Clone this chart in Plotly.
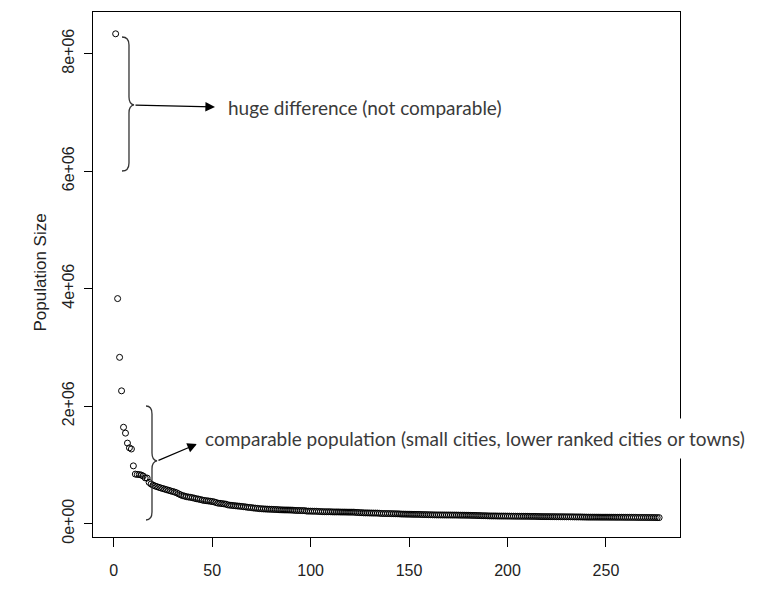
import plotly.graph_objects as go

# populations of the ranked cities (largest first)
population = [
    8336697, 3830000, 2830000, 2260000, 1640000, 1540000, 1370000, 1290000, 1270000, 982765,
    842592, 836507, 834852, 825863, 809798, 777992, 775202, 701475, 672538, 655155,
    640000, 628000, 617000, 606000, 596000, 586000, 576000, 566000, 556000, 546000,
    536000, 524000, 506000, 490000, 476000, 467892, 458000, 452084, 447021, 441000,
    431834, 423179, 418000, 410000, 400740, 393987, 390000, 386000, 381000, 375600,
    369250, 358597, 347645, 345610, 340000, 336000, 330920, 318172, 313673, 310000,
    306211, 303000, 298610, 296000, 292000, 288000, 284012, 277727, 275000, 272068,
    265679, 263000, 259384, 254555, 253000, 250000, 248000, 246541, 245000, 244000,
    242000, 240323, 239358, 236065, 234349, 233000, 232143, 231941, 231027, 230058,
    223729, 228417, 225427, 221020, 223491, 221986, 221140, 213295, 212303, 212038,
    210532, 210309, 209525, 206688, 205293, 203547, 202103, 202010, 201867, 196069,
    201555, 199932, 196495, 198549, 198449, 198413, 197182, 196537, 195250, 194899,
    194708, 194478, 190411, 189899, 186411, 186254, 181824, 182200, 182669, 180726,
    180097, 178919, 179013, 178432, 172648, 171279, 171682, 175437, 170747, 170685,
    169498, 168716, 166842, 167382, 165489, 161248, 159908, 162191, 162592, 160306,
    159038, 157429, 157820, 156823, 157986, 155079, 153215, 153552, 152735, 148612,
    149392, 150812, 145693, 150843, 146294, 147575, 143223, 147268, 147806, 146197,
    147027, 146425, 147214, 145236, 145627, 143684, 144669, 143195, 141359, 142022,
    142357, 139812, 139731, 138981, 137147, 128176, 136879, 134719, 134141, 130203,
    133579, 131686, 130045, 130410, 130741, 128729, 127018, 128412, 128119, 125583,
    127081, 127939, 126458, 126047, 124140, 124519, 122820, 124473, 125109, 125206,
    123776, 124893, 122999, 122761, 119385, 121287, 121123, 116889, 117963, 119311,
    118887, 118999, 117796, 118577, 115562, 118228, 117240, 114038, 116121, 117126,
    116768, 115828, 115321, 115111, 113225, 113972, 109779, 113242, 111918, 109922,
    109745, 110654, 111378, 109318, 109169, 108992, 106102, 110209, 109927, 108383,
    106573, 108732, 109915, 108956, 108321, 106954, 108861, 107734, 107772, 107741,
    107828, 106516, 106810, 107289, 104857, 103092, 106278, 103941, 104655, 104124,
    104552, 104779, 103690, 104391, 103297, 101617, 101989,
]
population = sorted(population, reverse=True)
rank = list(range(1, len(population) + 1))

y_ticks = [0, 2e6, 4e6, 6e6, 8e6]
y_labels = ["0e+00", "2e+06", "4e+06", "6e+06", "8e+06"]
x_ticks = [0, 50, 100, 150, 200, 250]

note_top = "huge difference (not comparable)"
note_bottom = "comparable population (small cities, lower ranked cities or towns)"

# page body has an 8px margin, so the figure starts at (8, 8) on screen
OFF = 8
W, H = 759 - OFF, 590 - OFF
X0, X1, Y0, Y1 = 93, 680, 12, 537   # plot box on screen
L, T = X0 - OFF, Y0 - OFF
R, B = W - (X1 - OFF), H - (Y1 - OFF)


def px(x):
    return (x - X0) / (X1 - X0)


def py(y):
    return (Y1 - y) / (Y1 - Y0)


def p(x, y):
    return f"{px(x):.4f},{py(y):.4f}"


def brace(x_end, x_mid, x_tip, y_top, y_tip, y_bot):
    return (f"M{p(x_end, y_top)} Q{p(x_mid, y_top)} {p(x_mid, y_top + 8)} "
            f"L{p(x_mid, y_tip - 8)} Q{p(x_mid, y_tip - 1)} {p(x_tip, y_tip)} "
            f"Q{p(x_mid, y_tip + 1)} {p(x_mid, y_tip + 8)} "
            f"L{p(x_mid, y_bot - 8)} Q{p(x_mid, y_bot)} {p(x_end, y_bot)}")


fig = go.Figure()
fig.add_trace(go.Scatter(
    x=rank, y=population, mode="markers",
    marker=dict(symbol="circle-open", size=6, color="black", line=dict(width=1)),
    showlegend=False,
))

axis_font = dict(family="Liberation Sans, Arial", size=16, color="#222")
fig.update_xaxes(
    range=[-10.5, 287.6], tickvals=x_ticks, showgrid=False, zeroline=False,
    showline=True, mirror=True, linecolor="black", linewidth=1,
    ticks="outside", ticklen=9, tickcolor="black", tickfont=axis_font,
    ticklabelstandoff=10,
)
fig.update_yaxes(
    range=[-0.228e6, 8.708e6], tickvals=y_ticks, ticktext=y_labels, tickangle=-90,
    showgrid=False, zeroline=False,
    showline=True, mirror=True, linecolor="black", linewidth=1,
    ticks="outside", ticklen=8, tickcolor="black", tickfont=axis_font,
    ticklabelstandoff=4,
)

shapes = [
    dict(type="path", xref="paper", yref="paper",
         path=brace(122, 129, 134, 37, 105, 171),
         line=dict(color="#333", width=1.3)),
    dict(type="path", xref="paper", yref="paper",
         path=brace(146, 152, 157, 406, 461, 520),
         line=dict(color="#333", width=1.3)),
]

text_font = dict(family="Lato, Open Sans", size=19, color="#3a3a3a")
annotations = [
    dict(xref="paper", yref="paper", x=px(28), y=py(273),
         text="Population Size", textangle=-90, showarrow=False,
         font=dict(family="Liberation Sans, Arial", size=17, color="#222")),
    dict(xref="paper", yref="paper", x=px(215), y=py(107),
         ax=-81, ay=-2, text="", showarrow=True, arrowhead=2, arrowsize=1.6,
         arrowwidth=1.2, arrowcolor="black", standoff=0),
    dict(xref="paper", yref="paper", x=px(197), y=py(444),
         ax=-40, ay=17, text="", showarrow=True, arrowhead=2, arrowsize=1.6,
         arrowwidth=1.2, arrowcolor="black", standoff=0),
    dict(xref="paper", yref="paper", x=px(226), y=py(107),
         xanchor="left", yanchor="middle", text=note_top, showarrow=False,
         font=text_font),
    dict(xref="paper", yref="paper", x=px(196), y=py(438),
         xanchor="left", yanchor="middle", text=note_bottom, showarrow=False,
         font=text_font, bgcolor="white", borderpad=8),
]

fig.update_layout(
    width=W, height=H, margin=dict(l=L, r=R, t=T, b=B),
    paper_bgcolor="white", plot_bgcolor="white",
    shapes=shapes, annotations=annotations,
)

fig.write_html("out.html")
